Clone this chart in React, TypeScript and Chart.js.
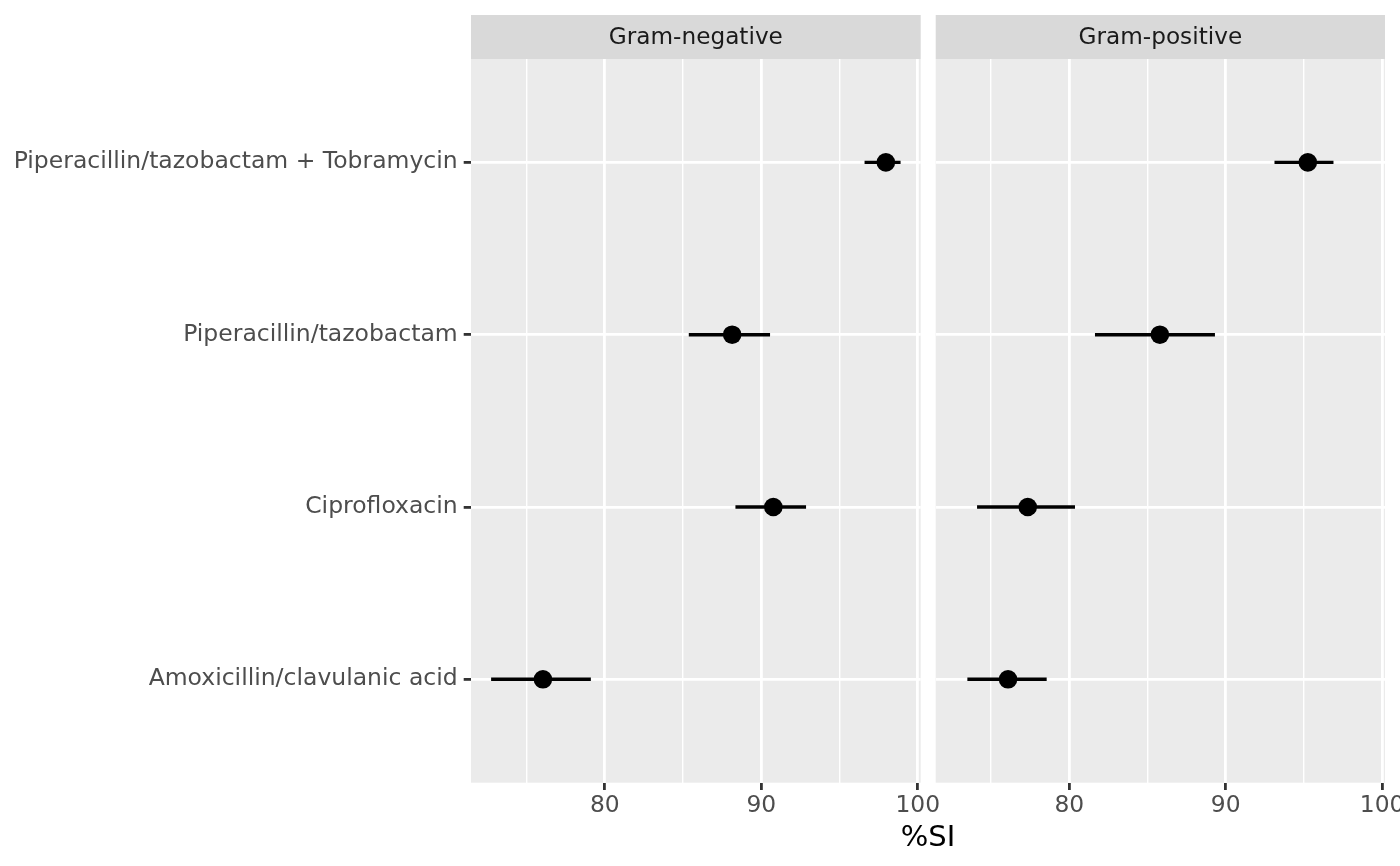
import React, { useEffect, useRef } from "react";
import { Chart, registerables } from "chart.js";

Chart.register(...registerables);

const categories = [
  "Piperacillin/tazobactam + Tobramycin",
  "Piperacillin/tazobactam",
  "Ciprofloxacin",
  "Amoxicillin/clavulanic acid",
];
const panels = ["Gram-negative", "Gram-positive"];

const gramNegValue = [97.96, 88.14, 90.77, 76.05];
const gramNegLower = [96.62, 85.39, 88.37, 72.76];
const gramNegUpper = [98.88, 90.54, 92.84, 79.09];

const gramPosValue = [95.25, 85.79, 77.34, 76.08];
const gramPosLower = [93.14, 81.66, 74.12, 73.5];
const gramPosUpper = [96.87, 89.29, 80.34, 78.53];

const xTickValues = [75, 80, 85, 90, 95, 100];
const xMajorTicks = [80, 90, 100];
const xTitle = "%SI";

const FONT = '"DejaVu Sans", "Noto Sans", sans-serif';
const W = 1400;
const H = 866;

const allLo = Math.min(...gramNegLower, ...gramPosLower);
const allHi = Math.max(...gramNegUpper, ...gramPosUpper);
const span = allHi - allLo;
const X_MIN = allLo - 0.05 * span;
const X_MAX = allHi + 0.05 * span;

const PANEL_TOP = 59;
const STRIP_TOP = 15;
const PANEL_BOTTOM = 782.7;

function makeConfig(
  stripLabel: string,
  values: number[],
  lower: number[],
  upper: number[],
  opts: { padLeft: number; padRight: number; yWidth: number; showY: boolean; drawTitle: boolean }
) {
  const panelPlugin = {
    id: "panelDecor" + stripLabel,
    beforeDraw(chart: any) {
      const { ctx, chartArea } = chart;
      ctx.save();
      ctx.fillStyle = "#EBEBEB";
      ctx.fillRect(chartArea.left, chartArea.top, chartArea.right - chartArea.left, chartArea.bottom - chartArea.top);
      ctx.fillStyle = "#D9D9D9";
      ctx.fillRect(chartArea.left, STRIP_TOP, chartArea.right - chartArea.left, chartArea.top - STRIP_TOP);
      ctx.fillStyle = "#1A1A1A";
      ctx.font = `23.2px ${FONT}`;
      ctx.textAlign = "center";
      ctx.textBaseline = "middle";
      ctx.fillText(stripLabel, (chartArea.left + chartArea.right) / 2, (STRIP_TOP + chartArea.top) / 2 + 1);
      ctx.restore();
    },
    afterDraw(chart: any) {
      if (!opts.drawTitle) return;
      const { ctx } = chart;
      ctx.save();
      ctx.fillStyle = "#000000";
      ctx.font = `29px ${FONT}`;
      ctx.textAlign = "center";
      ctx.textBaseline = "middle";
      ctx.fillText(xTitle, (471 + 1385) / 2, 838);
      ctx.restore();
    },
  };

  return {
    type: "bar" as const,
    data: {
      datasets: [
        {
          type: "scatter" as const,
          order: 0,
          data: values.map((v, i) => ({ x: v, y: i })),
          pointRadius: 9.3,
          pointHoverRadius: 9.3,
          backgroundColor: "#000000",
          borderWidth: 0,
          pointBorderWidth: 0,
        },
        {
          type: "bar" as const,
          order: 1,
          data: lower.map((lo, i) => ({ x: [lo, upper[i]], y: i })),
          backgroundColor: "#000000",
          borderWidth: 0,
          barThickness: 2.8,
        },
      ],
    },
    options: {
      indexAxis: "y" as const,
      animation: false as const,
      responsive: false,
      devicePixelRatio: 1,
      layout: { padding: { left: opts.padLeft, right: opts.padRight, top: PANEL_TOP, bottom: 0 } },
      plugins: { legend: { display: false }, tooltip: { enabled: false } },
      scales: {
        x: {
          type: "linear" as const,
          position: "bottom" as const,
          min: X_MIN,
          max: X_MAX,
          offset: false,
          afterBuildTicks: (axis: any) => {
            axis.ticks = xTickValues.map((v) => ({ value: v }));
          },
          afterFit: (axis: any) => {
            axis.height = H - PANEL_BOTTOM;
            axis.paddingLeft = 0;
            axis.paddingRight = 0;
          },
          border: { display: false },
          grid: {
            offset: false,
            color: "#FFFFFF",
            lineWidth: (c: any) => (c.tick && xMajorTicks.includes(c.tick.value) ? 2.8 : 1.4),
            drawTicks: true,
            tickLength: 7.3,
            tickWidth: 2.8,
            tickColor: (c: any) => (c.tick && xMajorTicks.includes(c.tick.value) ? "#333333" : "rgba(0,0,0,0)"),
          },
          ticks: {
            autoSkip: false,
            maxRotation: 0,
            padding: 2,
            color: "#4D4D4D",
            font: { family: FONT, size: 23.4 },
            callback: (v: any) => (xMajorTicks.includes(v) ? String(v) : ""),
          },
        },
        y: {
          type: "linear" as const,
          position: "left" as const,
          reverse: true,
          offset: false,
          min: -0.6,
          max: categories.length - 1 + 0.6,
          afterBuildTicks: (axis: any) => {
            axis.ticks = categories.map((_, i) => ({ value: i }));
          },
          afterFit: (axis: any) => {
            axis.width = opts.yWidth;
            axis.paddingTop = 0;
            axis.paddingBottom = 0;
          },
          border: { display: false },
          grid: {
            offset: false,
            color: "#FFFFFF",
            lineWidth: 2.8,
            drawTicks: opts.showY,
            tickLength: 7.3,
            tickWidth: 2.8,
            tickColor: "#333333",
          },
          ticks: {
            display: opts.showY,
            autoSkip: false,
            padding: 6,
            color: "#4D4D4D",
            font: { family: FONT, size: 23.5 },
            callback: (v: any) => categories[v] ?? "",
          },
        },
      },
    },
    plugins: [panelPlugin],
  };
}

export default function App() {
  const ref1 = useRef<HTMLCanvasElement>(null);
  const ref2 = useRef<HTMLCanvasElement>(null);

  useEffect(() => {
    document.body.style.margin = "0";
    const c1 = new Chart(
      ref1.current as HTMLCanvasElement,
      makeConfig(panels[0], gramNegValue, gramNegLower, gramNegUpper, {
        padLeft: 0,
        padRight: W - 920.7,
        yWidth: 471,
        showY: true,
        drawTitle: true,
      }) as any
    );
    const c2 = new Chart(
      ref2.current as HTMLCanvasElement,
      makeConfig(panels[1], gramPosValue, gramPosLower, gramPosUpper, {
        padLeft: 935.7,
        padRight: 15,
        yWidth: 0,
        showY: false,
        drawTitle: false,
      }) as any
    );
    return () => {
      c1.destroy();
      c2.destroy();
    };
  }, []);

  const style: React.CSSProperties = { position: "absolute", left: 0, top: 0, width: W, height: H };
  return (
    <div style={{ position: "absolute", left: 0, top: 0, width: W, height: H, background: "#FFFFFF" }}>
      <canvas ref={ref1} width={W} height={H} style={style} />
      <canvas ref={ref2} width={W} height={H} style={style} />
    </div>
  );
}
